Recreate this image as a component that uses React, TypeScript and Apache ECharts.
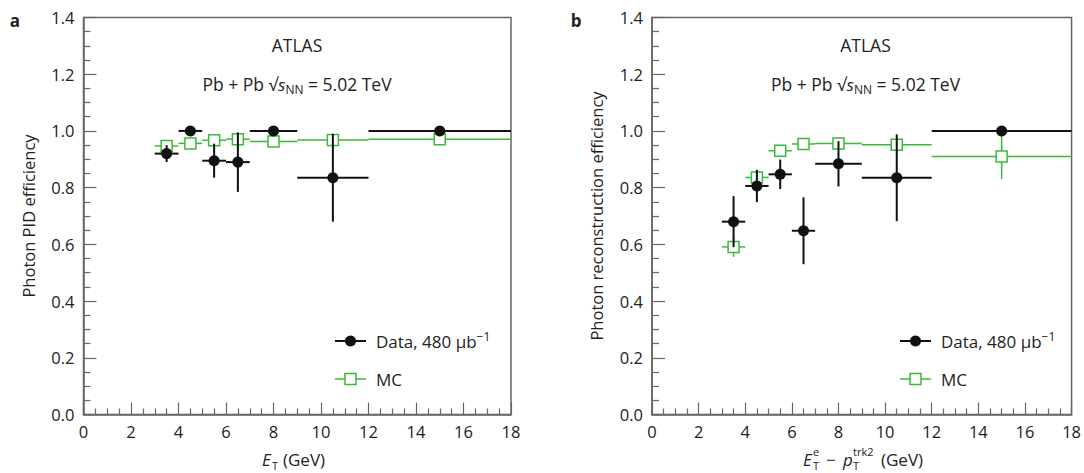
import React, { useEffect, useRef } from "react";
import * as echarts from "echarts";

// Bin centres and bin edges (GeV)
const binCenters = [3.5, 4.5, 5.5, 6.5, 8, 10.5, 15];
const binLow = [3, 4, 5, 6, 7, 9, 12];
const binHigh = [4, 5, 6, 7, 9, 12, 18];

// Panel a: photon PID efficiency
const pidData = [0.92, 1.0, 0.895, 0.89, 1.0, 0.835, 1.0];
const pidDataErr = [0.03, 0, 0.06, 0.105, 0, 0.155, 0];
const pidMC = [0.947, 0.956, 0.967, 0.971, 0.963, 0.968, 0.971];
const pidMCErr = [0.008, 0.006, 0.006, 0.006, 0.004, 0.004, 0.004];

// Panel b: photon reconstruction efficiency
const recoData = [0.68, 0.806, 0.847, 0.648, 0.884, 0.835, 1.0];
const recoDataErr = [0.09, 0.057, 0.052, 0.118, 0.08, 0.153, 0];
const recoMC = [0.591, 0.836, 0.93, 0.954, 0.956, 0.951, 0.91];
const recoMCErr = [0.035, 0.015, 0.01, 0.008, 0.008, 0.008, 0.08];

const xMin = 0;
const xMax = 18;
const xStep = 2;
const yMin = 0;
const yMax = 1.4;
const yStep = 0.2;

const yTitles = ["Photon PID efficiency", "Photon reconstruction efficiency"];
const panelLabels = ["a", "b"];

const FONT = "'Open Sans', 'Noto Sans', sans-serif";
const TEXT = "#222";
const AXIS = "#666";
const BLACK = "#111";
const GREEN = "#3cb83c";
const FS = 17;

function rows(vals: number[], errs: number[]) {
  return binCenters.map((x, i) => [x, vals[i], binLow[i], binHigh[i], errs[i]]);
}

function errorBars(color: string, width: number) {
  return (_params: any, api: any) => {
    const x = api.value(0);
    const y = api.value(1);
    const lo = api.value(2);
    const hi = api.value(3);
    const e = api.value(4);
    const pL = api.coord([lo, y]);
    const pR = api.coord([hi, y]);
    const children: any[] = [
      {
        type: "line",
        shape: { x1: pL[0], y1: pL[1], x2: pR[0], y2: pR[1] },
        style: { stroke: color, lineWidth: width },
      },
    ];
    if (e > 0) {
      const pT = api.coord([x, y + e]);
      const pB = api.coord([x, y - e]);
      children.push({
        type: "line",
        shape: { x1: pT[0], y1: pT[1], x2: pB[0], y2: pB[1] },
        style: { stroke: color, lineWidth: width },
      });
    }
    return { type: "group", children };
  };
}

const richBase = {
  it: { fontStyle: "italic", fontSize: FS, fontFamily: FONT, fill: TEXT, lineHeight: 22 },
  sub: { fontSize: 12, fontFamily: FONT, fill: TEXT, lineHeight: 8, verticalAlign: "bottom" },
  sup: { fontSize: 12, fontFamily: FONT, fill: TEXT, lineHeight: 8, verticalAlign: "top" },
};

function txt(x: number, y: number, text: string, extra: any = {}) {
  return {
    type: "text",
    x,
    y,
    silent: true,
    style: {
      text,
      fontSize: FS,
      fontFamily: FONT,
      fill: TEXT,
      lineHeight: 22,
      align: "center",
      verticalAlign: "middle",
      rich: richBase,
      ...extra,
    },
  };
}

function small(x: number, y: number, text: string) {
  return txt(x, y, text, { align: "left", fontSize: 11, lineHeight: 9 });
}

function legend(x0: number, yData: number, yMC: number) {
  return [
    { type: "line", shape: { x1: x0, y1: yData, x2: x0 + 31, y2: yData }, style: { stroke: BLACK, lineWidth: 2 } },
    { type: "circle", shape: { cx: x0 + 15.5, cy: yData, r: 5.5 }, style: { fill: BLACK } },
    txt(x0 + 41, yData, "Data, 480 μb{sup|−1}", { align: "left" }),
    { type: "line", shape: { x1: x0, y1: yMC, x2: x0 + 31, y2: yMC }, style: { stroke: GREEN, lineWidth: 1.5 } },
    {
      type: "rect",
      shape: { x: x0 + 10, y: yMC - 5.5, width: 11, height: 11 },
      style: { fill: "#fff", stroke: GREEN, lineWidth: 1.5 },
    },
    txt(x0 + 41, yMC, "MC", { align: "left" }),
  ];
}

export default function App() {
  const ref = useRef<HTMLDivElement>(null);

  useEffect(() => {
    if (!ref.current) return;
    const chart = echarts.init(ref.current, undefined, { renderer: "svg" });

    const grids = [
      { left: 83.5, top: 17.5, width: 427.5, height: 397, show: true, borderColor: AXIS, borderWidth: 1.5, backgroundColor: "transparent" },
      { left: 652, top: 17.5, width: 427, height: 397, show: true, borderColor: AXIS, borderWidth: 1.5, backgroundColor: "transparent" },
    ];

    const xAxes = [0, 1].map((g) => ({
      type: "value",
      gridIndex: g,
      min: xMin,
      max: xMax,
      interval: xStep,
      axisLine: { show: true, lineStyle: { color: AXIS, width: 1.5 } },
      axisTick: { show: true, inside: true, length: 12, lineStyle: { color: AXIS, width: 1.2 } },
      minorTick: { show: true, splitNumber: 4, length: 6, lineStyle: { color: AXIS, width: 1.2 } },
      splitLine: { show: false },
      axisLabel: { color: TEXT, fontSize: 16.5, fontFamily: FONT, margin: 8 },
    }));

    const yAxes = [0, 1].map((g) => ({
      type: "value",
      gridIndex: g,
      min: yMin,
      max: yMax,
      interval: yStep,
      name: yTitles[g],
      nameLocation: "middle",
      nameGap: 47,
      nameTextStyle: { color: TEXT, fontSize: 16.5, fontFamily: FONT },
      axisLine: { show: true, lineStyle: { color: AXIS, width: 1.5 } },
      axisTick: { show: true, inside: true, length: 13, lineStyle: { color: AXIS, width: 1.2 } },
      minorTick: { show: true, splitNumber: 4, length: 7, lineStyle: { color: AXIS, width: 1.2 } },
      splitLine: { show: false },
      axisLabel: {
        color: TEXT,
        fontSize: 16.5,
        fontFamily: FONT,
        margin: 9,
        formatter: (v: number) => v.toFixed(1),
      },
    }));

    const panelSeries = (g: number, dv: number[], de: number[], mv: number[], me: number[]) => [
      {
        type: "custom",
        xAxisIndex: g,
        yAxisIndex: g,
        renderItem: errorBars(GREEN, 1.5),
        data: rows(mv, me),
        encode: { x: 0, y: 1 },
        z: 2,
        silent: true,
      },
      {
        type: "scatter",
        xAxisIndex: g,
        yAxisIndex: g,
        symbol: "rect",
        symbolSize: 11,
        itemStyle: { color: "#fff", borderColor: GREEN, borderWidth: 1.5, opacity: 1 },
        data: binCenters.map((x, i) => [x, mv[i]]),
        z: 3,
        silent: true,
      },
      {
        type: "custom",
        xAxisIndex: g,
        yAxisIndex: g,
        renderItem: errorBars(BLACK, 2),
        data: rows(dv, de),
        encode: { x: 0, y: 1 },
        z: 4,
        silent: true,
      },
      {
        type: "scatter",
        xAxisIndex: g,
        yAxisIndex: g,
        symbol: "circle",
        symbolSize: 11,
        itemStyle: { color: BLACK, opacity: 1 },
        data: binCenters.map((x, i) => [x, dv[i]]),
        z: 5,
        silent: true,
      },
    ];

    const centers = [297, 865.5];
    const graphics: any[] = [];
    [0, 1].forEach((g) => {
      const cx = centers[g];
      graphics.push(txt(g === 0 ? 15 : 576, 20, panelLabels[g], { fontWeight: "bold", fontSize: 17 }));
      graphics.push(txt(cx, 45, "ATLAS", { fontSize: 17.5 }));
      graphics.push(txt(cx, 84, "Pb + Pb √{it|s}{sub|NN} = 5.02 TeV", { fontSize: 17.5 }));
    });
    graphics.push(...legend(335, 341, 379));
    graphics.push(...legend(900, 341, 379));

    // x axis titles
    const yName = 459;
    const lx = 262;
    graphics.push(txt(lx, yName, "E", { align: "left", fontStyle: "italic", lineHeight: 18 }));
    graphics.push(small(lx + 10, yName + 6, "T"));
    graphics.push(txt(lx + 21, yName, "(GeV)", { align: "left", lineHeight: 18 }));

    const rx = 803;
    graphics.push(txt(rx, yName, "E", { align: "left", fontStyle: "italic", lineHeight: 18 }));
    graphics.push(small(rx + 10, yName - 8, "e"));
    graphics.push(small(rx + 10, yName + 6, "T"));
    graphics.push(txt(rx + 23, yName, "−", { align: "left", lineHeight: 18 }));
    graphics.push(txt(rx + 40, yName, "p", { align: "left", fontStyle: "italic", lineHeight: 18 }));
    graphics.push(small(rx + 50, yName - 8, "trk2"));
    graphics.push(small(rx + 50, yName + 6, "T"));
    graphics.push(txt(rx + 78, yName, "(GeV)", { align: "left", lineHeight: 18 }));

    chart.setOption({
      animation: false,
      backgroundColor: "#fff",
      grid: grids,
      xAxis: xAxes,
      yAxis: yAxes,
      series: [
        ...panelSeries(0, pidData, pidDataErr, pidMC, pidMCErr),
        ...panelSeries(1, recoData, recoDataErr, recoMC, recoMCErr),
      ],
      graphic: graphics,
    });

    return () => chart.dispose();
  }, []);

  return (
    <div
      ref={ref}
      style={{ position: "fixed", left: 0, top: 0, width: 1084, height: 473, background: "#fff" }}
    />
  );
}
